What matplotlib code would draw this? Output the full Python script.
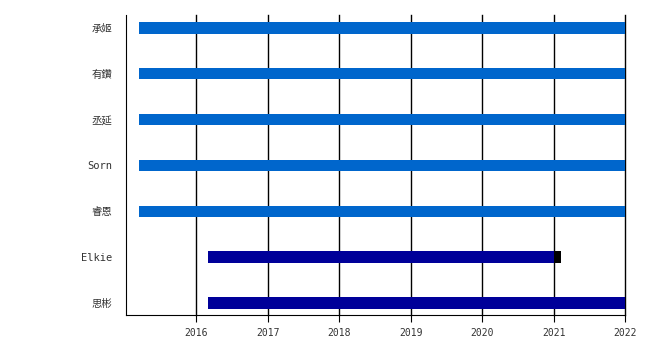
import matplotlib
matplotlib.use("Agg")
import matplotlib.pyplot as plt

plt.rcParams['font.family'] = ['DejaVu Sans Mono', 'Noto Sans CJK SC']

members = ["思彬", "Elkie", "睿恩", "Sorn", "丞延", "有鑽", "承姬"]
starts = [2016.17, 2016.17, 2015.2, 2015.2, 2015.2, 2015.2, 2015.2]
ends = [2022.0, 2021.0, 2022.0, 2022.0, 2022.0, 2022.0, 2022.0]
colors = ["#000099", "#000099", "#0066cc", "#0066cc", "#0066cc", "#0066cc", "#0066cc"]
# short extra period after leaving (black)
extra_start = [None, 2021.0, None, None, None, None, None]
extra_end = [None, 2021.1, None, None, None, None, None]
years = [2016, 2017, 2018, 2019, 2020, 2021, 2022]

fig = plt.figure(figsize=(6.5, 3.5), dpi=100)
ax = fig.add_axes([0.194, 0.1, 0.768, 0.857])

for y in years:
    ax.axvline(y, color="black", linewidth=1, zorder=1, clip_on=False)

for i, name in enumerate(members):
    ax.barh(i, ends[i] - starts[i], left=starts[i], height=0.25,
            color=colors[i], zorder=2)
    if extra_start[i] is not None:
        ax.barh(i, extra_end[i] - extra_start[i], left=extra_start[i],
                height=0.25, color="black", zorder=2)

ax.set_xlim(2015.02, 2022.0)
ax.set_ylim(-0.26, 6.28)
ax.set_xticks(years)
ax.set_xticklabels([str(y) for y in years], fontsize=7, color="#333333")
ax.set_yticks(range(len(members)))
ax.set_yticklabels(members, fontsize=7.5, color="#333333")
ax.tick_params(axis="y", length=0, pad=10)
ax.tick_params(axis="x", length=5, direction="out", pad=4)
for s in ["top", "right"]:
    ax.spines[s].set_visible(False)

fig.savefig("out.png", dpi=100)
